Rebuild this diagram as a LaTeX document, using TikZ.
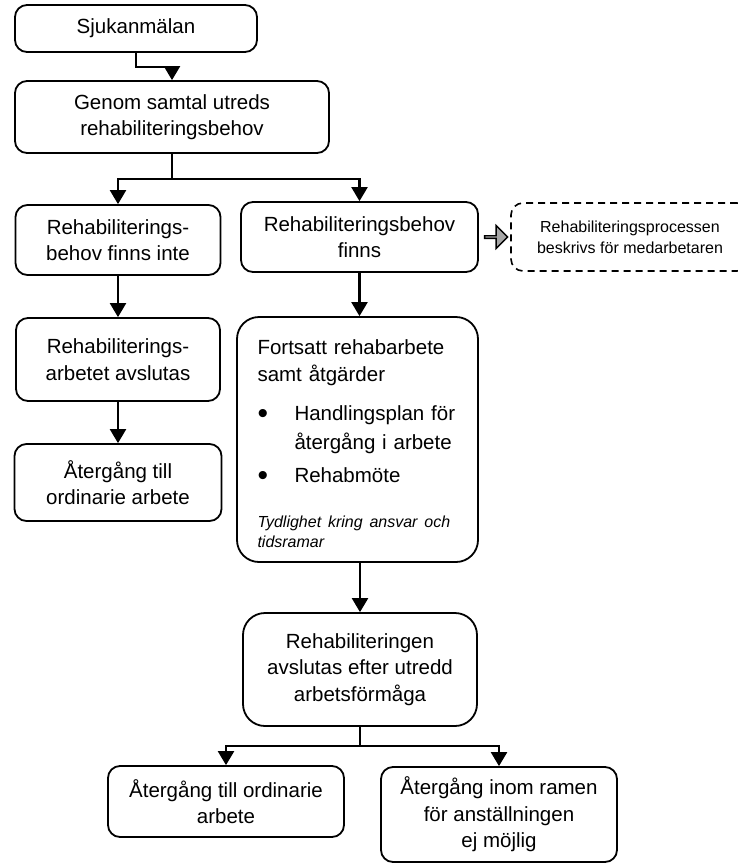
\documentclass[tikz,border=0pt]{standalone}
\usepackage{fontspec}
\setmainfont{Liberation Sans}
\usetikzlibrary{arrows.meta, positioning, shapes.arrows}
\definecolor{cgrey}{HTML}{A6A6A6}
\tikzset{
  every picture/.style={line width=1.8pt, x=1pt, y=-1pt},
  box/.style={draw, rounded corners=12pt, align=center, inner sep=4pt, font=\fontsize{20.5}{26.5}\selectfont},
  bigbox/.style={box, rounded corners=22pt},
  infobox/.style={draw, dash pattern=on 7pt off 5pt, line width=1.6pt, rounded corners=12pt, align=center, inner sep=4pt, font=\fontsize{16}{21}\selectfont},
  arrow/.style={-{Triangle[length=14pt, width=16pt]}, line width=2.4pt},
  line/.style={line width=2.4pt},
  blockarr/.style={single arrow, draw, fill=cgrey, line width=1.4pt, inner sep=0pt, minimum height=23pt, minimum width=23pt, single arrow head extend=5.5pt},
}

\begin{document}
\begin{tikzpicture}
  \newcommand{\bul}{\makebox[37pt][l]{\raisebox{-2.5pt}{\fontsize{30}{26}\selectfont\textbullet}}}
  \useasboundingbox (0,0) rectangle (738,863);

  % start
  \node[box, minimum width=242pt, minimum height=47pt] (sjuk) at (136,28.5) {Sjukanmälan};
  \node[box, minimum width=314pt, minimum height=72pt] (samtal) at (172,117) {Genom samtal utreds\\rehabiliteringsbehov};
  \coordinate (k1) at (172,67);
  \draw[arrow] (sjuk.south) |- (k1) -- (samtal.north);

  % left column: no need
  \node[box, minimum width=205pt, minimum height=70pt] (ingen) at (118,240) {Rehabiliterings-\\behov finns inte};
  \node[box, minimum width=204pt, minimum height=83pt] (avslut) at (118,359.5) {Rehabiliterings-\\arbetet avslutas};
  \node[box, minimum width=207pt, minimum height=77pt] (ordin) at (118,482.5) {Återgång till\\ordinarie arbete};
  \draw[arrow] (ingen) -- (avslut);
  \draw[arrow] (avslut) -- (ordin);

  % right column: need
  \node[box, minimum width=237pt, minimum height=70pt] (behov) at (359.5,237) {Rehabiliteringsbehov\\finns};
  \node[blockarr, right=5pt of behov] (pil) {};
  \node[infobox, minimum width=238pt, minimum height=68pt] (info) at (630,237) {Rehabiliteringsprocessen\\beskrivs för medarbetaren};
  \coordinate (split1) at (172,179);
  \draw[line] (samtal.south) -- (split1);
  \draw[arrow] (split1) -| (ingen.north);
  \draw[arrow] (split1) -| (behov.north);

  \node[bigbox, align=left, text width=200pt, minimum width=241pt, minimum height=245pt] (cont) at (357.5,439.5) {%
    \rule{0pt}{24pt}Fortsatt rehabarbete\\
    samt åtgärder\\[13pt]
    \bul Handlingsplan för\\[2pt]
    \hspace*{37pt}återgång i arbete\\[7pt]
    \bul Rehabmöte\par
    \vspace{25pt}
    {\raggedright\fontsize{16}{20}\selectfont\itshape Tydlighet kring ansvar och\\tidsramar\par}};
  \draw[arrow] (behov.south) -- (behov.south |- cont.north);

  % end
  \node[bigbox, minimum width=234pt, minimum height=113pt] (slut) at (360,669.5) {Rehabiliteringen\\avslutas efter utredd\\arbetsförmåga};
  \draw[arrow] (slut.north |- cont.south) -- (slut.north);
  \node[box, minimum width=236pt, minimum height=71pt] (ord2) at (226,801.5) {Återgång till ordinarie\\arbete};
  \node[box, minimum width=236pt, minimum height=95pt] (ejmoj) at (499,814.5) {Återgång inom ramen\\för anställningen\\ej möjlig};
  \coordinate (split2) at (360,746);
  \draw[line] (slut.south) -- (split2);
  \draw[arrow] (split2) -| (ord2.north);
  \draw[arrow] (split2) -| (ejmoj.north);
\end{tikzpicture}
\end{document}
